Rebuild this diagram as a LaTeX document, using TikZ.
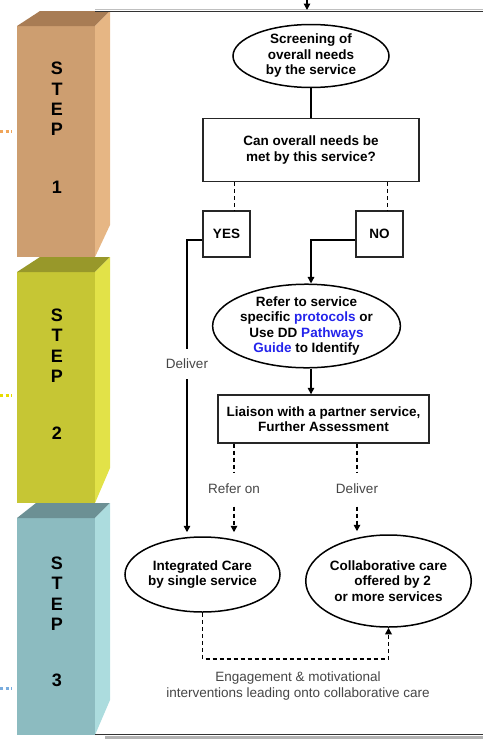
\documentclass[tikz,border=0pt]{standalone}
\usepackage{fontspec}
\setmainfont{Liberation Sans}
\usetikzlibrary{arrows.meta,shapes.geometric,calc}
\definecolor{sAfront}{RGB}{205,158,112}
\definecolor{sAtop}{RGB}{168,124,84}
\definecolor{sAside}{RGB}{230,182,132}
\definecolor{sBfront}{RGB}{198,198,52}
\definecolor{sBtop}{RGB}{152,152,42}
\definecolor{sBside}{RGB}{226,226,72}
\definecolor{sCfront}{RGB}{140,187,192}
\definecolor{sCtop}{RGB}{108,144,148}
\definecolor{sCside}{RGB}{172,220,222}
\definecolor{linkblue}{RGB}{35,35,235}
\definecolor{dotorange}{RGB}{240,165,90}
\definecolor{dotyellow}{RGB}{232,220,0}
\definecolor{dotblue}{RGB}{120,172,222}
\definecolor{labgray}{RGB}{70,70,70}
\begin{document}
\begin{tikzpicture}[x=1pt,y=-1pt,
  ell/.style={ellipse, draw=black, line width=1.5pt, inner sep=0pt, align=center,
    font=\bfseries\fontsize{13.5}{15.5}\selectfont},
  flowbox/.style={rectangle, draw=black!85, line width=1.4pt, inner sep=0pt, align=center,
    font=\bfseries\fontsize{13.5}{15.5}\selectfont},
  conn/.style={line width=1.4pt, black},
  dashconn/.style={conn, line width=1.6pt, dash pattern=on 4pt off 3pt},
  arr/.style={-{Triangle[width=6.5pt,length=6.5pt]}},
  lab/.style={font=\fontsize{13.5}{17}\selectfont, text=labgray, fill=white, inner xsep=2pt, align=center},
  steptxt/.style={font=\bfseries\fontsize{18}{18}\selectfont, inner sep=0pt}]
\useasboundingbox (0,0) rectangle (483,739);

% ---------- step prisms ----------
\fill[sAfront] (17,26) rectangle (95,257);
\fill[sAtop] (17,26) -- (40,11) -- (110,11) -- (95,26) -- cycle;
\fill[sAside] (95,26) -- (110,11) -- (110,225) -- (95,257) -- cycle;
\fill[sBfront] (17,272) rectangle (95,503);
\fill[sBtop] (17,272) -- (40,257) -- (110,257) -- (95,272) -- cycle;
\fill[sBside] (95,272) -- (110,257) -- (110,468) -- (95,503) -- cycle;
\fill[sCfront] (17,518) rectangle (95,735);
\fill[sCtop] (17,518) -- (36,503) -- (110,503) -- (95,518) -- cycle;
\fill[sCside] (95,518) -- (110,503) -- (110,700) -- (95,735) -- cycle;

\foreach \yy/\t in {68/S,89/T,109/E,129/P,187/1,315/S,335/T,356/E,376/P,433/2,563/S,583/T,604/E,624/P,680/3}
  \node[steptxt] at (57,\yy) {\t};

% left dotted marks
\draw[dotorange, line width=3pt, dash pattern=on 3pt off 2.5pt] (0,131) -- (12,131);
\draw[dotyellow, line width=3pt, dash pattern=on 3pt off 2.5pt] (0,395) -- (12,395);
\draw[dotblue, line width=3pt, dash pattern=on 3pt off 2.5pt] (0,688) -- (12,688);

% frame lines
\draw[black!25, line width=1pt] (95,9) -- (483,9);
\draw[black!80, line width=1.6pt] (95,11.5) -- (483,11.5);
\draw[black!30, line width=3pt] (105,737.5) -- (483,737.5);
\draw[black!80, line width=1.6pt] (95,734.5) -- (483,734.5);

% ---------- nodes ----------
\node[ell, minimum width=156pt, minimum height=63pt] (scr) at (311,56) {Screening of\\overall needs\\by the service};
\node[flowbox, minimum width=216pt, minimum height=63pt] (can) at (311,150) {Can overall needs be\\met by this service?};
\node[flowbox, minimum width=47pt, minimum height=46pt] (yes) at (226.5,234) {YES};
\node[flowbox, minimum width=47pt, minimum height=46pt] (no) at (379.5,234) {NO};
\node[ell, minimum width=167pt, minimum height=78pt] (ref) at (306.5,326) {Refer to service\\specific \textcolor{linkblue}{protocols} or\\Use DD \textcolor{linkblue}{Pathways}\\\textcolor{linkblue}{Guide} to Identify};
\node[flowbox, minimum width=211pt, minimum height=48pt] (lia) at (323.5,419) {Liaison with a partner service,\\Further Assessment};
\node[ell, minimum width=155pt, minimum height=75pt] (int) at (202.5,574.5) {Integrated Care\\by single service};
\node[ell, minimum width=157pt, minimum height=92pt] (col) at (388.5,581) {Collaborative care\\\phantom{o}offered by 2\\or more services};

% ---------- connectors ----------
\coordinate (topin) at (307,0);
\coordinate (topend) at (307,10);
\draw[conn,arr] (topin) -- (topend);

\coordinate (mx) at (311,0);
\coordinate (ycol) at (187,0);
\coordinate (rx) at (234,0);
\coordinate (dx) at (357,0);

\draw[conn] (scr.south -| mx) -- (can.north -| mx);
\draw[dashconn] ([xshift=8pt]yes.north |- can.south) -- ([xshift=8pt]yes.north);
\draw[dashconn] ([xshift=8pt]no.north |- can.south) -- ([xshift=8pt]no.north);

\draw[conn,arr] ([yshift=-6pt]yes.west) -| ($(int.north -| ycol)+(0,-4)$);
\node[lab, inner ysep=10pt] (dlv) at (187,364) {Deliver};

\draw[conn,arr] ([yshift=-6pt]no.west) -| (ref.north -| mx);
\draw[conn,arr] (ref.south -| mx) -- (lia.north -| mx);

\draw[dashconn,arr] (lia.south -| rx) -- ($(int.north -| rx)+(0,-4)$);
\node[lab, inner ysep=11pt] (refon) at (234,489) {Refer on};
\draw[dashconn,arr] (lia.south -| dx) -- ($(col.north -| dx)+(0,-3)$);
\node[lab, inner ysep=11pt] (dlv2) at (357,489) {Deliver};

\draw[dashconn,arr] (int.south) -- ++(0,46) coordinate (bl) -| (col.south);
\node[lab] (eng) at (298,686) {Engagement \& motivational\\interventions leading onto collaborative care};
\end{tikzpicture}
\end{document}
